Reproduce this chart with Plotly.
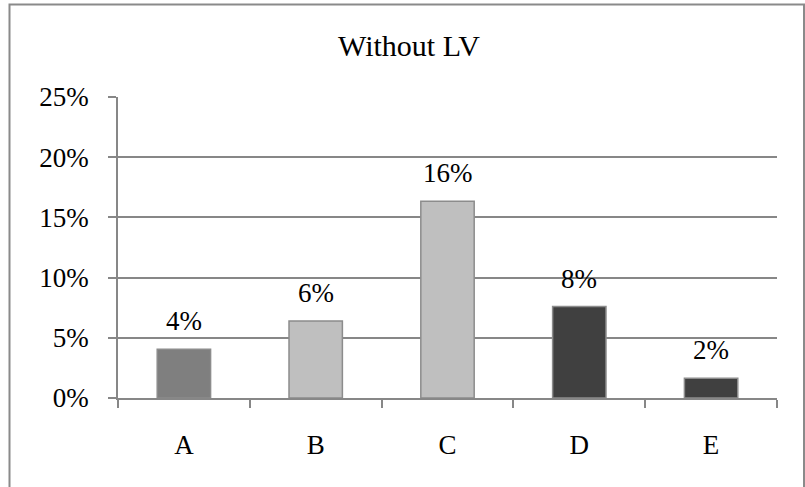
import plotly.graph_objects as go

categories = ["A", "B", "C", "D", "E"]
values = [4.05, 6.4, 16.35, 7.6, 1.65]
bar_colors = ["#7f7f7f", "#bfbfbf", "#bfbfbf", "#404040", "#404040"]
y_ticks = [0, 5, 10, 15, 20, 25]
y_tick_labels = [f"{t}%" for t in y_ticks]
labels = [f"{round(v)}%" for v in values]

W, H = 805, 487
L, R, T, B = 118, 28, 97, 89
pw, ph = W - L - R, H - T - B

def px(x):
    return (x - L) / pw

def py(y):
    return (H - B - y) / ph

font_family = "Liberation Serif, Times New Roman, serif"
FS = 27

fig = go.Figure(
    go.Bar(
        x=categories,
        y=values,
        marker=dict(color=bar_colors, line=dict(color="#8c8c8c", width=1.5)),
        width=0.405,
        hoverinfo="x+y",
    )
)

annotations = [
    dict(
        x=c,
        y=v,
        xref="x",
        yref="y",
        text=t,
        showarrow=False,
        yanchor="bottom",
        xanchor="center",
        yshift=11,
        font=dict(family=font_family, size=FS, color="black"),
    )
    for c, v, t in zip(categories, values, labels)
]

fig.update_layout(
    width=W,
    height=H,
    margin=dict(l=L, r=R, t=T, b=B),
    paper_bgcolor="white",
    plot_bgcolor="white",
    showlegend=False,
    font=dict(family=font_family, size=FS, color="black"),
    title=dict(
        text="Without LV",
        x=409 / W,
        xanchor="center",
        y=1 - 45 / H,
        yanchor="middle",
        font=dict(family=font_family, size=30, color="black"),
    ),
    annotations=annotations,
    shapes=[
        dict(
            type="rect",
            xref="paper",
            yref="paper",
            x0=px(9.5),
            x1=px(804),
            y0=py(500),
            y1=py(4.5),
            line=dict(color="#8a8a8a", width=2),
            fillcolor="rgba(0,0,0,0)",
            layer="below",
        )
    ],
)

fig.update_xaxes(
    type="category",
    showline=True,
    linecolor="#878787",
    linewidth=1.5,
    ticks="outside",
    tickson="boundaries",
    ticklen=8,
    tickcolor="#878787",
    tickwidth=1.5,
    showgrid=False,
    tickfont=dict(family=font_family, size=FS, color="black"),
    ticklabelstandoff=22,
)

fig.update_yaxes(
    range=[0, 25],
    tickvals=y_ticks,
    ticktext=y_tick_labels,
    showline=True,
    linecolor="#878787",
    linewidth=1.5,
    ticks="outside",
    ticklen=8,
    tickcolor="#878787",
    tickwidth=1.5,
    showgrid=True,
    gridcolor="#878787",
    gridwidth=1.5,
    zeroline=False,
    tickfont=dict(family=font_family, size=FS, color="black"),
    ticklabelstandoff=14,
)

fig.write_html(
    "out.html",
    config={"displayModeBar": False},
    post_script="document.body.style.margin='0';document.body.style.overflow='hidden';",
)
